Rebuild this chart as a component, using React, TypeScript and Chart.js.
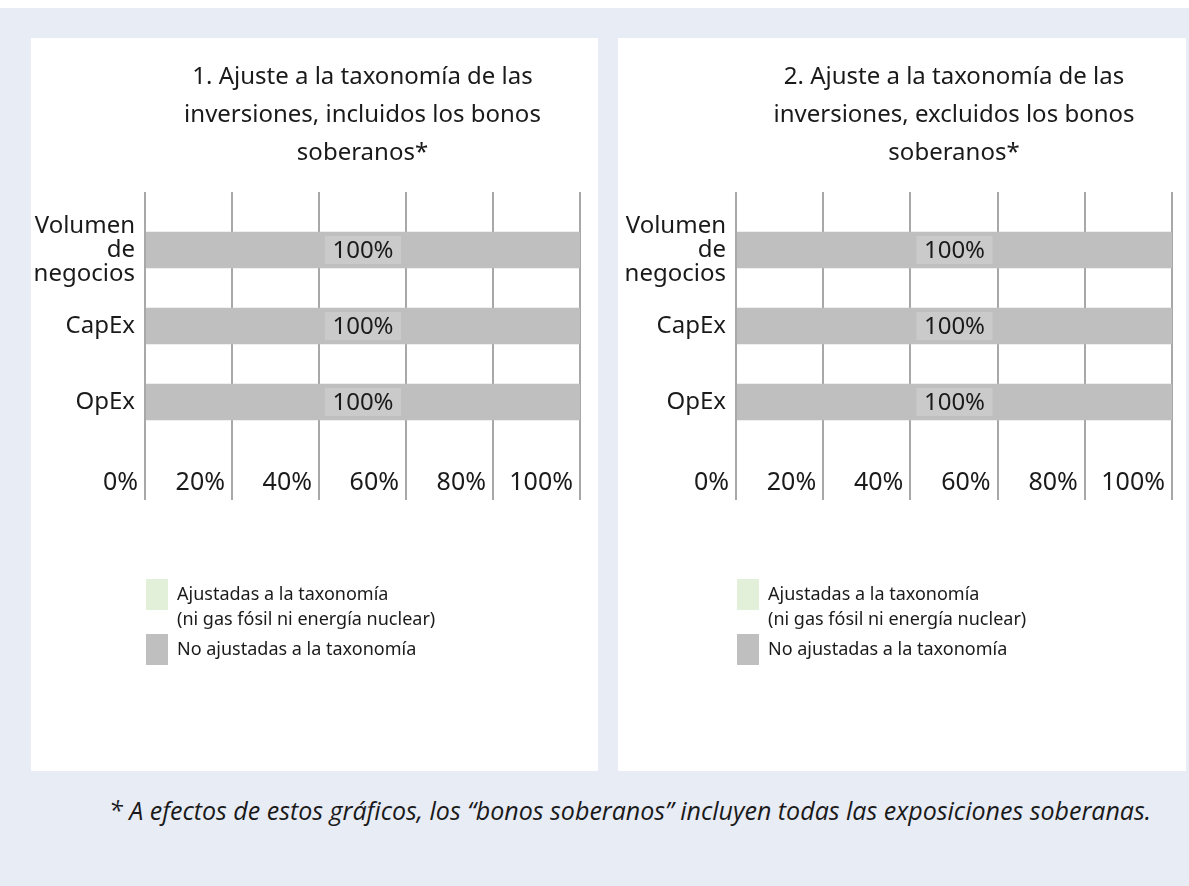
import React, { useEffect, useRef } from 'react';
import { Chart, registerables } from 'chart.js';

Chart.register(...registerables);

// ---- data ----
const categories: (string | string[])[] = [['Volumen', 'de', 'negocios'], 'CapEx', 'OpEx'];
const alignedValues1 = [0, 0, 0];
const notAlignedValues1 = [100, 100, 100];
const alignedValues2 = [0, 0, 0];
const notAlignedValues2 = [100, 100, 100];
const xTickLabels = ['0%', '20%', '40%', '60%', '80%', '100%'];
const legendAligned = ['Ajustadas a la taxonomía', '(ni gas fósil ni energía nuclear)'];
const legendNotAligned = 'No ajustadas a la taxonomía';
const title1 = ['1. Ajuste a la taxonomía de las', 'inversiones, incluidos los bonos', 'soberanos*'];
const title2 = ['2. Ajuste a la taxonomía de las', 'inversiones, excluidos los bonos', 'soberanos*'];
const footnote = '* A efectos de estos gráficos, los “bonos soberanos” incluyen todas las exposiciones soberanas.';

const FONT = "'Noto Sans', 'Open Sans', sans-serif";
const TEXT = '#1a1a1a';
const GRID = '#A8A8A8';

const barLabelPlugin = {
  id: 'barLabels',
  afterDatasetsDraw(chart: any) {
    const ctx = chart.ctx;
    chart.data.datasets.forEach((ds: any, di: number) => {
      const meta = chart.getDatasetMeta(di);
      meta.data.forEach((bar: any, i: number) => {
        const v = ds.data[i];
        if (!v) return;
        const { x, y, base } = bar.getProps(['x', 'y', 'base'], true);
        const cx = (x + base) / 2;
        const text = v + '%';
        ctx.save();
        ctx.font = `24px ${FONT}`;
        const w = ctx.measureText(text).width + 15;
        ctx.fillStyle = '#CACACA';
        ctx.fillRect(cx - w / 2, y - 14, w, 28);
        ctx.fillStyle = TEXT;
        ctx.textAlign = 'center';
        ctx.textBaseline = 'middle';
        ctx.fillText(text, cx, y + 1);
        ctx.restore();
      });
    });
  },
};

const legendShiftPlugin = {
  id: 'legendShift',
  afterLayout(chart: any) {
    const lg = chart.legend;
    if (lg) {
      lg.left -= 23;
      lg.right -= 23;
    }
  },
};

type PanelProps = {
  title: string[];
  aligned: number[];
  notAligned: number[];
  width: number;
  height: number;
  yWidth: number;
  padRight: number;
};

function Panel({ title, aligned, notAligned, width, height, yWidth, padRight }: PanelProps) {
  const ref = useRef<HTMLCanvasElement>(null);
  useEffect(() => {
    const chart = new Chart(ref.current as HTMLCanvasElement, {
      type: 'bar',
      data: {
        labels: categories as any,
        datasets: [
          { label: legendAligned as any, data: aligned, backgroundColor: '#E2F0D9', borderWidth: 0 },
          { label: legendNotAligned, data: notAligned, backgroundColor: '#BFBFBF', borderWidth: 0 },
        ],
      },
      options: {
        indexAxis: 'y',
        responsive: false,
        animation: false,
        layout: { padding: { top: 0, left: 0, right: padRight, bottom: 96 } },
        datasets: { bar: { barPercentage: 0.48, categoryPercentage: 1 } } as any,
        scales: {
          x: {
            type: 'linear',
            position: 'bottom',
            stacked: true,
            min: 0,
            max: 100,
            border: { display: false },
            grid: { color: GRID, lineWidth: 2, drawTicks: true, tickLength: 60 },
            ticks: {
              stepSize: 20,
              autoSkip: false,
              maxRotation: 0,
              align: 'end',
              padding: -32,
              labelOffset: -7,
              color: TEXT,
              font: { family: FONT, size: 25 },
              callback: (_v: any, i: number) => xTickLabels[i],
            },
            afterFit: (scale: any) => {
              scale.height = 115;
            },
          },
          x2: {
            type: 'linear',
            position: 'top',
            min: 0,
            max: 100,
            border: { display: false },
            grid: { color: GRID, lineWidth: 2, drawOnChartArea: false, drawTicks: true, tickLength: 20 },
            ticks: { display: false, stepSize: 20 },
          },
          y: {
            type: 'category',
            stacked: true,
            border: { display: false },
            grid: { display: false, drawTicks: false },
            ticks: {
              padding: 10,
              color: TEXT,
              font: { family: FONT, size: 24, lineHeight: 1.0 },
            },
            afterFit: (scale: any) => {
              scale.width = yWidth;
            },
          },
        } as any,
        plugins: {
          title: {
            display: true,
            text: title,
            fullSize: false,
            color: TEXT,
            font: { family: FONT, size: 24, weight: 'normal', lineHeight: 1.5833 },
            padding: { top: 20, bottom: 20 },
          },
          legend: {
            display: true,
            position: 'bottom',
            align: 'start',
            fullSize: false,
            labels: {
              boxWidth: 22,
              boxHeight: 31,
              padding: 24,
              color: TEXT,
              font: { family: FONT, size: 18, lineHeight: 1.4 },
            },
          },
          tooltip: { enabled: false },
        } as any,
      },
      plugins: [barLabelPlugin, legendShiftPlugin],
    });
    return () => chart.destroy();
  }, []);
  return <canvas ref={ref} width={width} height={height} style={{ display: 'block' }} />;
}

export default function App() {
  return (
    <div
      style={{
        position: 'absolute',
        left: 0,
        top: 8,
        width: 1189,
        height: 878,
        background: '#E8ECF5',
        overflow: 'hidden',
      }}
    >
      <div style={{ position: 'absolute', left: 31, top: 30, width: 567, height: 733, background: '#fff' }}>
        <Panel
          title={title1}
          aligned={alignedValues1}
          notAligned={notAlignedValues1}
          width={567}
          height={733}
          yWidth={114}
          padRight={18}
        />
      </div>
      <div style={{ position: 'absolute', left: 618, top: 30, width: 568, height: 733, background: '#fff' }}>
        <Panel
          title={title2}
          aligned={alignedValues2}
          notAligned={notAlignedValues2}
          width={568}
          height={733}
          yWidth={118}
          padRight={14}
        />
      </div>
      <div
        style={{
          position: 'absolute',
          left: 109,
          top: 787,
          fontFamily: "'Open Sans', 'Noto Sans', sans-serif",
          fontStyle: 'italic',
          fontSize: 25,
          lineHeight: '30px',
          color: TEXT,
          whiteSpace: 'nowrap',
        }}
      >
        {footnote}
      </div>
    </div>
  );
}
